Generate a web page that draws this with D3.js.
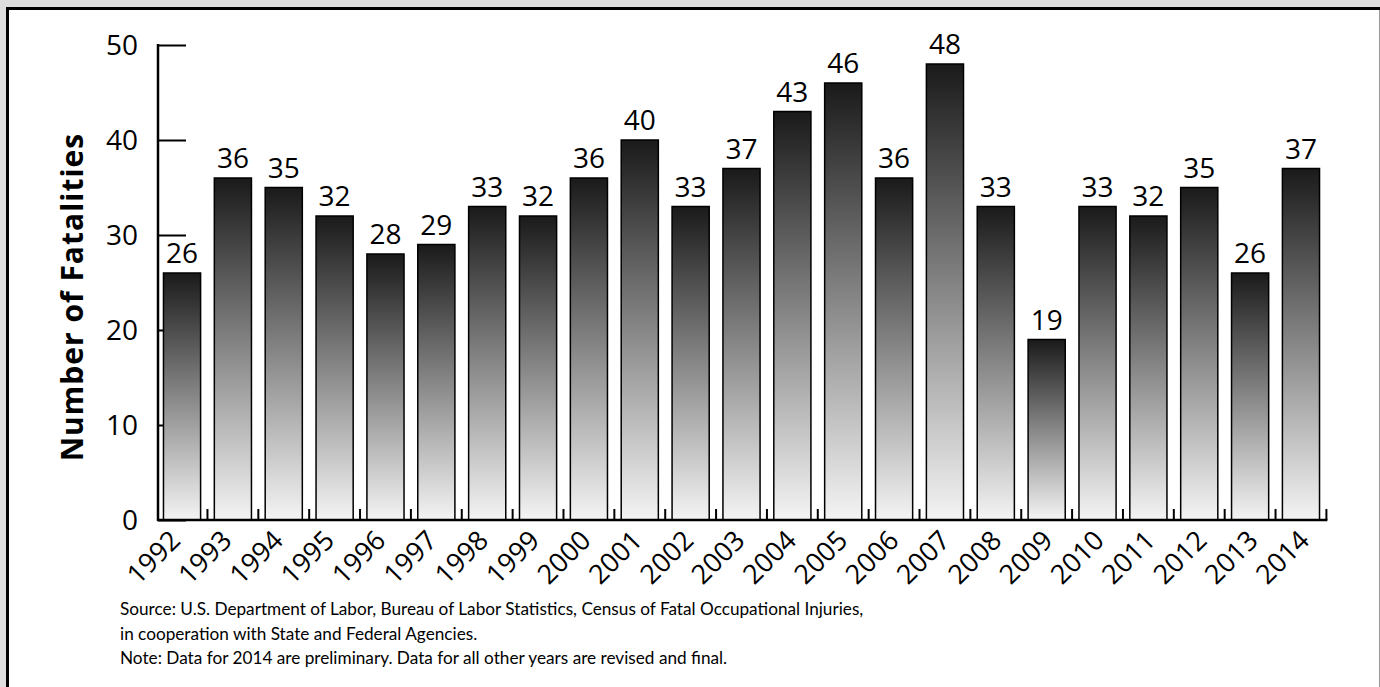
<!DOCTYPE html>
<html lang="en">
<head>
    <meta charset="UTF-8">
    <title>Number of Fatalities 1992-2014</title>
    <script src="https://d3js.org/d3.v7.min.js"></script>
    <style>
        body, html {
            margin: 0;
            padding: 0;
            background: #fff;
        }
        svg { display: block; }
        text { font-family: "Open Sans", "Noto Sans", sans-serif; fill: #000; }
        text.note { font-family: Lato, "Open Sans", sans-serif; }
    </style>
</head>
<body>
    <script>
        // Chart data
        const years = ["1992", "1993", "1994", "1995", "1996", "1997", "1998", "1999", "2000", "2001", "2002",
            "2003", "2004", "2005", "2006", "2007", "2008", "2009", "2010", "2011", "2012", "2013", "2014"];
        const fatalities = [26, 36, 35, 32, 28, 29, 33, 32, 36, 40, 33, 37, 43, 46, 36, 48, 33, 19, 33, 32, 35, 26, 37];
        const yTicks = [0, 10, 20, 30, 40, 50];
        const notes = [
            "Source: U.S. Department of Labor, Bureau of Labor Statistics, Census of Fatal Occupational Injuries,",
            "in cooperation with State and Federal Agencies.",
            "Note: Data for 2014 are preliminary. Data for all other years are revised and final."
        ];

        const width = 1380;
        const height = 687;

        const svg = d3.select("body")
            .append("svg")
            .attr("width", width)
            .attr("height", height);

        // Frame around the page
        svg.append("rect").attr("width", width).attr("height", height).attr("fill", "#dedede");
        svg.append("rect").attr("x", 6).attr("y", 7).attr("width", 1373).attr("height", height - 7).attr("fill", "#fff");
        svg.append("line").attr("x1", 7.5).attr("x2", 7.5).attr("y1", 7).attr("y2", height)
            .attr("stroke", "#000").attr("stroke-width", 3);
        svg.append("line").attr("x1", 6).attr("x2", 1380).attr("y1", 8.5).attr("y2", 8.5)
            .attr("stroke", "#000").attr("stroke-width", 3);
        svg.append("line").attr("x1", 1379.5).attr("x2", 1379.5).attr("y1", 10).attr("y2", height)
            .attr("stroke", "#999").attr("stroke-width", 1);

        // Gradient for bars: dark on top, fading to light at the bottom
        const grad = svg.append("defs").append("linearGradient")
            .attr("id", "barGrad")
            .attr("x1", 0).attr("y1", 0).attr("x2", 0).attr("y2", 1);
        grad.append("stop").attr("offset", "0%").attr("stop-color", "#1a1a1a");
        grad.append("stop").attr("offset", "100%").attr("stop-color", "#f4f4f4");

        // Scales
        const x = d3.scaleBand()
            .domain(years)
            .range([156.6, 1326.4])
            .paddingInner(0.27)
            .paddingOuter(0.135);

        // year labels drift slightly right of the bars in the original
        const xLabel = d3.scalePoint()
            .domain(years)
            .range([182, 1311]);

        const y = d3.scaleLinear()
            .domain([0, 50])
            .range([520, 45]);

        // Y axis (ticks point inward, drawn under bars)
        const yAxis = svg.append("g")
            .attr("transform", "translate(158,0)")
            .call(d3.axisRight(y).tickValues(yTicks).tickSize(28).tickFormat(""));
        yAxis.select(".domain").remove();
        yAxis.selectAll("line").attr("stroke", "#000").attr("stroke-width", 2);

        svg.append("line")
            .attr("x1", 158).attr("x2", 158)
            .attr("y1", y(50) - 1).attr("y2", y(0) + 1)
            .attr("stroke", "#000").attr("stroke-width", 2.5);

        svg.selectAll(".ylabel")
            .data(yTicks)
            .enter()
            .append("text")
            .attr("class", "ylabel")
            .attr("x", 138)
            .attr("y", d => y(d))
            .attr("dy", "0.35em")
            .attr("text-anchor", "end")
            .attr("font-size", "28px")
            .text(d => d);

        // X axis tick marks at band boundaries
        const step = x.step();
        const bounds = years.map((d, i) => x(d) + x.bandwidth() + (step - x.bandwidth()) / 2);
        svg.selectAll(".xtick")
            .data(bounds)
            .enter()
            .append("line")
            .attr("class", "xtick")
            .attr("x1", d => d).attr("x2", d => d)
            .attr("y1", y(0)).attr("y2", y(0) - 11)
            .attr("stroke", "#000").attr("stroke-width", 2);

        // Bars
        svg.selectAll(".bar")
            .data(fatalities)
            .enter()
            .append("rect")
            .attr("class", "bar")
            .attr("x", (d, i) => x(years[i]))
            .attr("y", d => y(d))
            .attr("width", x.bandwidth())
            .attr("height", d => y(0) - y(d))
            .attr("fill", "url(#barGrad)")
            .attr("stroke", "#000")
            .attr("stroke-width", 1.5);

        // X axis line
        svg.append("line")
            .attr("x1", 157).attr("x2", d3.max(bounds) + 1)
            .attr("y1", y(0)).attr("y2", y(0))
            .attr("stroke", "#000").attr("stroke-width", 2.5);

        // Value labels
        svg.selectAll(".value")
            .data(fatalities)
            .enter()
            .append("text")
            .attr("class", "value")
            .attr("x", (d, i) => x(years[i]) + x.bandwidth() / 2)
            .attr("y", d => y(d) - 10)
            .attr("text-anchor", "middle")
            .attr("font-size", "28px")
            .text(d => d);

        // Year labels, rotated
        svg.selectAll(".year")
            .data(years)
            .enter()
            .append("text")
            .attr("class", "year")
            .attr("transform", d => `translate(${xLabel(d)},542) rotate(-45)`)
            .attr("text-anchor", "end")
            .attr("font-size", "27px")
            .text(d => d);

        // Y axis title
        svg.append("text")
            .attr("transform", "translate(83,297) rotate(-90)")
            .attr("text-anchor", "middle")
            .attr("font-size", "30px")
            .attr("font-weight", "bold")
            .attr("letter-spacing", "1px")
            .text("Number of Fatalities");

        // Source notes
        svg.selectAll(".note")
            .data(notes)
            .enter()
            .append("text")
            .attr("class", "note")
            .attr("x", 120)
            .attr("y", (d, i) => 615 + i * 24.5)
            .attr("font-size", "17.2px")
            .text(d => d);
    </script>
</body>
</html>
